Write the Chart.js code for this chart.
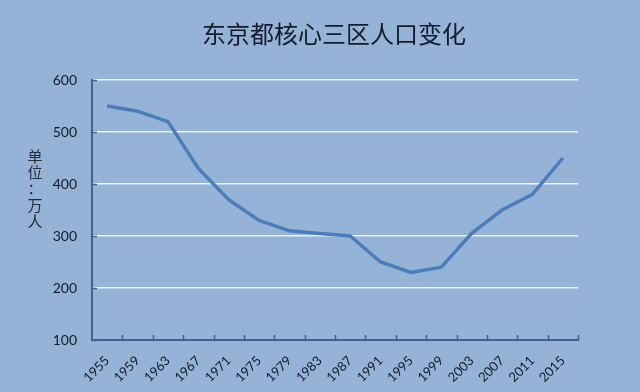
<!DOCTYPE html>
<html><head><meta charset="utf-8">
<script src="https://cdn.jsdelivr.net/npm/chart.js@4.4.1/dist/chart.umd.min.js"></script>
<style>
html,body{margin:0;padding:0;background:#95B3D7;}
#wrap{width:640px;height:392px;position:relative;}
</style></head>
<body><div id="wrap"><canvas id="c" width="640" height="392"></canvas></div>
<script>
const titleText = '东京都核心三区人口变化';
const unitText = '单位：万人';
const years = ['1955','1959','1963','1967','1971','1975','1979','1983','1987','1991','1995','1999','2003','2007','2011','2015'];
const population = [550,540,520,430,370,330,310,305,300,250,230,240,305,350,380,450];
const yTicks = [100,200,300,400,500,600];

const axisColor = '#3E6290';
const textColor = '#141B28';

const decor = {
  id:'decor',
  afterDraw(chart){
    const ctx = chart.ctx;
    const xs = chart.scales.x, ys = chart.scales.y;
    ctx.save();
    // title
    ctx.fillStyle = textColor;
    ctx.font = '24px "Noto Sans CJK SC"';
    ctx.textAlign = 'center';
    ctx.textBaseline = 'middle';
    ctx.fillText(titleText, 334, 34);
    // unit label stacked vertically
    ctx.font = '15px "Noto Sans CJK SC"';
    ctx.fillStyle = '#262b36';
    const chars = Array.from(unitText);
    chars.forEach((ch,i)=>{ ctx.fillText(ch, 35, 156 + i*16.3); });
    // inner tick marks
    ctx.strokeStyle = axisColor;
    ctx.lineWidth = 1.5;
    const n = years.length;
    const w = (xs.right - xs.left)/n;
    for(let i=1;i<=n;i++){
      const x = Math.round(xs.left + i*w)+0.5;
      ctx.beginPath(); ctx.moveTo(x, xs.top); ctx.lineTo(x, xs.top-5); ctx.stroke();
    }
    ys.ticks.forEach(t=>{
      const y = Math.round(ys.getPixelForValue(t.value))+0.5;
      ctx.beginPath(); ctx.moveTo(ys.right, y); ctx.lineTo(ys.right+5, y); ctx.stroke();
    });
    ctx.restore();
  }
};

new Chart(document.getElementById('c'), {
  type:'line',
  data:{ labels: years, datasets:[{ data: population, borderColor:'#4A7EBB', borderWidth:3.5, pointRadius:0, tension:0, fill:false }]},
  options:{
    responsive:false, animation:false, devicePixelRatio:1,
    layout:{ padding:{ top:80, right:62, left:0, bottom:0 } },
    plugins:{ legend:{display:false}, title:{display:false}, tooltip:{enabled:false} },
    scales:{
      x:{
        offset:true,
        grid:{ display:false },
        border:{ display:true, color:axisColor, width:2 },
        ticks:{ color:textColor, font:{ family:'Lato', size:13 }, minRotation:45, maxRotation:45, padding:5, autoSkip:false },
        afterFit(s){ s.height = 52; }
      },
      y:{
        min:100, max:600,
        afterBuildTicks(s){ s.ticks = yTicks.map(v=>({value:v})); },
        grid:{ color:'rgba(255,255,255,0.85)', lineWidth:1.5, drawTicks:false },
        border:{ display:true, color:axisColor, width:2 },
        ticks:{ color:textColor, font:{ family:'Lato', size:14 }, padding:15 },
        afterFit(s){ s.width = 92; }
      }
    }
  },
  plugins:[decor]
});
</script></body></html>
